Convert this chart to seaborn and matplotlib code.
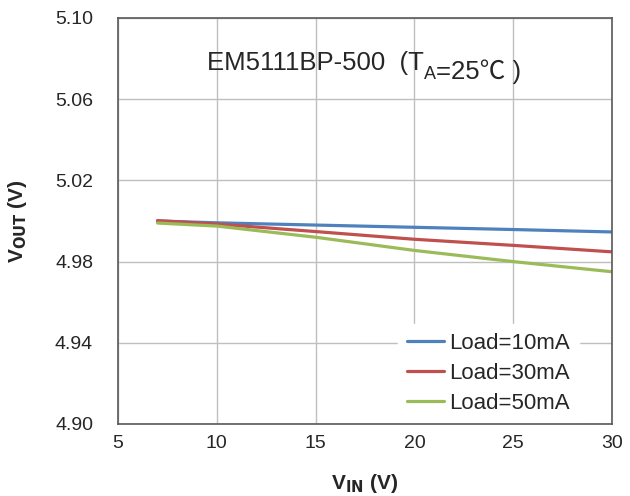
import pandas as pd
import seaborn as sns
import matplotlib.pyplot as plt

sns.set_style("white")
plt.rcParams["font.family"] = ["Liberation Sans", "Noto Sans CJK SC", "DejaVu Sans"]

# VIN (V) sample points
vin = [7, 10, 15, 20, 25, 30]
# VOUT (V) per load
vout_10ma = [5.0000, 4.9991, 4.9980, 4.9969, 4.9958, 4.9946]
vout_30ma = [5.0002, 4.9985, 4.9948, 4.9910, 4.9880, 4.9848]
vout_50ma = [4.9990, 4.9975, 4.9920, 4.9855, 4.9800, 4.9750]
loads = ["Load=10mA", "Load=30mA", "Load=50mA"]
colors = ["#4F81BD", "#C0504D", "#9BBB59"]

df = pd.concat([
    pd.DataFrame({"vin": vin, "vout": v, "load": name})
    for v, name in zip([vout_10ma, vout_30ma, vout_50ma], loads)
])

fig = plt.figure(figsize=(6.3, 4.96), dpi=100)
ax = fig.add_axes([118 / 630, 1 - 424 / 496, 494 / 630, 406 / 496])

sns.lineplot(data=df, x="vin", y="vout", hue="load", palette=colors,
             linewidth=2.3, ax=ax)

ax.set_xlim(5, 30)
ax.set_ylim(4.90, 5.10)
ax.set_xticks([5, 10, 15, 20, 25, 30])
ax.set_yticks([4.90, 4.94, 4.98, 5.02, 5.06, 5.10])
ax.set_yticklabels(["4.90", "4.94", "4.98", "5.02", "5.06", "5.10"])
ax.grid(True, color="#BFBFBF", linewidth=1)
ax.tick_params(axis="both", length=0, labelsize=14)
ax.tick_params(axis="x", pad=8)
ax.tick_params(axis="y", pad=18)
for s in ax.spines.values():
    s.set_color("#595959")
    s.set_linewidth(1.2)
    s.set_zorder(6)

ax.set_xlabel(r"V$_{\mathbf{IN}}$ (V)", fontsize=15, fontweight="bold")
ax.set_ylabel(r"V$_{\mathbf{OUT}}$ (V)", fontsize=15, fontweight="bold")
ax.xaxis.set_label_coords(0.5, -0.118)
ax.yaxis.set_label_coords(-0.18, 0.5)

# title inside the plot, pieced together so the degree sign can fall back
t1 = ax.text(0.18, 0.872, "EM5111BP-500  (T", transform=ax.transAxes,
             ha="left", va="baseline", fontsize=18.5)
t2 = ax.annotate("A", xy=(1, 0), xycoords=t1, xytext=(0, -3),
                 textcoords="offset points", ha="left", va="baseline", fontsize=13)
t3 = ax.annotate("=25\u2103 )", xy=(1, 0), xycoords=t2, xytext=(0, 3),
                 textcoords="offset points", ha="left", va="baseline", fontsize=18.5)

leg = ax.legend(loc="upper left", bbox_to_anchor=(0.567, 0.246), borderaxespad=0,
                frameon=True, fontsize=16, handlelength=1.65, handletextpad=0.25,
                labelspacing=0.4, borderpad=0.4)
leg.get_frame().set_edgecolor("white")
leg.get_frame().set_facecolor("white")
leg.get_frame().set_alpha(1)
leg.set_title(None)

plt.savefig("out.png", dpi=100)
plt.close()
